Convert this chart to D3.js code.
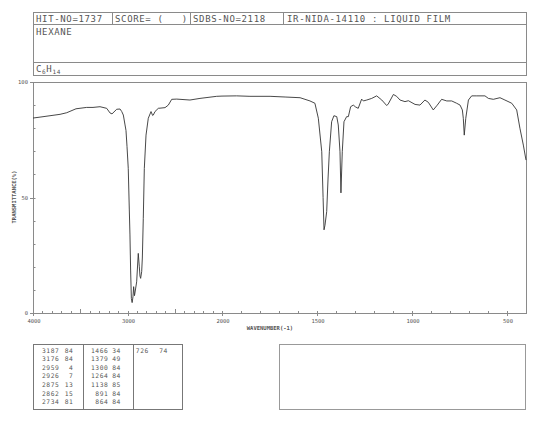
<!DOCTYPE html>
<html>
<head>
<meta charset="utf-8">
<script src="https://cdn.jsdelivr.net/npm/d3@7"></script>
<style>
  body { margin: 0; background: #fff; }
  svg { display: block; }
  text { font-family: "DejaVu Sans Mono", monospace; fill: #555; }
</style>
</head>
<body>
<div id="chart"></div>
<script>
(function (d3) {
  'use strict';

  // spectrum: wavenumber (cm-1) and transmittance (%)
  var wavenumbers = [4000, 3926, 3820, 3714, 3643, 3545, 3432, 3365, 3291, 3220, 3185, 3164,
    3114, 3079, 3061, 3044, 3026, 3016, 3005, 2992, 2981, 2974, 2967, 2959, 2951, 2942,
    2935, 2926, 2918, 2903, 2886, 2875, 2868, 2861, 2850, 2843, 2833, 2822, 2804, 2780,
    2751, 2734, 2727, 2709, 2674, 2603, 2568, 2532, 2479, 2339, 2233, 2056, 2000,
    1923, 1853, 1747, 1668, 1589, 1537, 1511, 1493, 1475, 1468, 1463, 1458, 1449, 1442,
    1435, 1423, 1411, 1396, 1388, 1379, 1374, 1367, 1358, 1344, 1335, 1323, 1309, 1297,
    1283, 1265, 1256, 1238, 1212, 1186, 1159, 1133, 1125, 1098, 1081, 1063, 1037, 1019,
    984, 958, 932, 914, 888, 867, 844, 817, 791, 765, 747, 735, 730, 725, 717, 703, 686,
    659, 616, 598, 572, 537, 511, 475, 449, 432, 414, 400];
  var transmittance = [84.4, 84.8, 85.4, 86.0, 86.7, 88.4, 89.0, 89.0, 89.3, 88.6, 86.6, 86.2,
    88.2, 88.3, 87.2, 85.7, 81.4, 79, 72, 62.6, 45, 33.8, 18.6, 6.3, 4.5, 7,
    11.4, 7.5, 9.5, 13.5, 25.8, 20, 16, 15, 17.9, 23.8, 41, 62.6, 77, 84.3,
    87.2, 85.5, 85.7, 87.2, 88.6, 88.9, 90, 92.5, 92.6, 92.2, 92.9, 93.8, 93.9,
    94, 93.8, 93.8, 93.5, 93.2, 91.8, 90.8, 84.3, 69.8, 50, 36, 38, 43.9, 58,
    69.8, 82.8, 85.4, 85, 81.4, 69.8, 52, 69.8, 82.8, 85, 85, 89.3, 90, 89.2,
    88.6, 92.6, 91.8, 92.2, 92.9, 94, 92.2, 89.8, 90.5, 94.6, 93.8, 92.2, 91.5, 91.9,
    90.3, 90, 92.2, 91.2, 87.9, 90, 92.5, 91.8, 91.8, 90.8, 90, 87.9, 84.3, 77, 84.3, 92.2, 94,
    94, 94, 92.9, 92.5, 93.2, 92.2, 90.8, 87.9, 80, 72.7, 66.2];

  // peak list
  var peakWn = [3187, 3176, 2959, 2926, 2875, 2862, 2734,
                1466, 1379, 1300, 1264, 1138, 891, 864,
                726];
  var peakT = [84, 84, 4, 7, 13, 15, 81,
               34, 49, 84, 84, 85, 84, 84,
               74];

  var xLabels = [4000, 3000, 2000, 1500, 1000, 500];
  var yLabels = [0, 50, 100];

  var width = 545, height = 421;
  var left = 33, right = 526, top = 82, bottom = 313;
  var frame = '#8a8a8a';

  var svg = d3.select('#chart').append('svg')
      .attr('width', width)
      .attr('height', height);

  // header box
  var hdr = svg.append('g');
  hdr.append('rect')
      .attr('x', left + 0.5).attr('y', 12.5)
      .attr('width', right - left).attr('height', 63)
      .attr('fill', 'none').attr('stroke', frame);
  [24.5, 62.5].forEach(function (y) {
    hdr.append('line').attr('x1', left).attr('x2', right + 0.5)
        .attr('y1', y).attr('y2', y).attr('stroke', frame);
  });
  [112.5, 190.5, 283.5].forEach(function (x) {
    hdr.append('line').attr('x1', x).attr('x2', x)
        .attr('y1', 12.5).attr('y2', 24.5).attr('stroke', frame);
  });
  var hdrText = [
    { x: 36, y: 22, t: 'HIT-NO=1737' },
    { x: 115, y: 22, t: 'SCORE= (   )' },
    { x: 193, y: 22, t: 'SDBS-NO=2118' },
    { x: 287, y: 22, t: 'IR-NIDA-14110 : LIQUID FILM' },
    { x: 36, y: 35, t: 'HEXANE' }
  ];
  hdr.selectAll('text.h').data(hdrText).enter()
    .append('text')
      .attr('class', 'h')
      .attr('x', function (d) { return d.x; })
      .attr('y', function (d) { return d.y; })
      .attr('font-size', 9)
      .attr('letter-spacing', 0.65)
      .attr('xml:space', 'preserve')
      .text(function (d) { return d.t; });
  var formula = hdr.append('text')
      .attr('x', 36).attr('y', 72)
      .attr('font-size', 9).attr('letter-spacing', 0.65);
  formula.append('tspan').text('C');
  formula.append('tspan').attr('font-size', 6).attr('dy', 2).text('6');
  formula.append('tspan').attr('dy', -2).text('H');
  formula.append('tspan').attr('font-size', 6).attr('dy', 2).text('14');

  // scales: the chart doubles its scale below 2000 cm-1
  var x = d3.scaleLinear().domain([4000, 2000, 400]).range([left, 222, right]);
  var y = d3.scaleLinear().domain([0, 100]).range([bottom, top]);

  svg.append('rect')
      .attr('x', left + 0.5).attr('y', top + 0.5)
      .attr('width', right - left).attr('height', bottom - top)
      .attr('fill', 'none').attr('stroke', frame);

  // x ticks
  var xt = svg.append('g').attr('stroke', frame);
  d3.range(4000, 399, -100).forEach(function (v) {
    var px = Math.round(x(v)) + 0.5;
    var major = xLabels.indexOf(v) >= 0;
    var mid = (v === 3500 || v === 2500);
    xt.append('line')
        .attr('x1', px).attr('x2', px)
        .attr('y1', bottom - (mid ? 4 : 2))
        .attr('y2', bottom + (major ? 3 : 0.5));
  });
  svg.selectAll('text.xl').data(xLabels).enter()
    .append('text')
      .attr('class', 'xl')
      .attr('x', function (d) { return x(d) + 1; })
      .attr('y', 323)
      .attr('text-anchor', 'middle')
      .attr('font-size', 5.5)
      .text(function (d) { return d; });
  svg.append('text')
      .attr('x', 270).attr('y', 330)
      .attr('text-anchor', 'middle')
      .attr('font-size', 5.5)
      .attr('font-weight', 'bold')
      .text('WAVENUMBER(-1)');

  // y ticks
  var yt = svg.append('g').attr('stroke', frame);
  d3.range(0, 101, 10).forEach(function (v) {
    var py = Math.round(y(v)) + 0.5;
    var major = yLabels.indexOf(v) >= 0;
    yt.append('line')
        .attr('x1', left - (major ? 3 : 0)).attr('x2', left + 2.5)
        .attr('y1', py).attr('y2', py);
  });
  svg.selectAll('text.yl').data(yLabels).enter()
    .append('text')
      .attr('class', 'yl')
      .attr('x', 28)
      .attr('y', function (d) { return y(d) + 2; })
      .attr('text-anchor', 'end')
      .attr('font-size', 5.5)
      .text(function (d) { return d; });
  svg.append('text')
      .attr('transform', 'translate(16,197) rotate(-90)')
      .attr('text-anchor', 'middle')
      .attr('font-size', 5.5)
      .attr('font-weight', 'bold')
      .text('TRANSMITTANCE(%)');

  // spectrum
  var line = d3.line()
      .x(function (d) { return x(d[0]); })
      .y(function (d) { return y(d[1]); });
  svg.append('path')
      .datum(d3.zip(wavenumbers, transmittance))
      .attr('d', line)
      .attr('fill', 'none')
      .attr('stroke', '#333')
      .attr('stroke-width', 0.9)
      .attr('stroke-linejoin', 'round');

  // peak table
  var tbl = svg.append('g');
  tbl.append('rect')
      .attr('x', 33.5).attr('y', 344.5).attr('width', 149).attr('height', 65)
      .attr('fill', 'none').attr('stroke', '#777');
  [83.5, 133.5].forEach(function (xx) {
    tbl.append('line').attr('x1', xx).attr('x2', xx)
        .attr('y1', 344.5).attr('y2', 409.5).attr('stroke', '#777');
  });
  tbl.append('rect')
      .attr('x', 279.5).attr('y', 344.5).attr('width', 246).attr('height', 65)
      .attr('fill', 'none').attr('stroke', '#999');

  var colWn = [59.5, 108.5, 149], colT = [73.5, 121, 168];
  var rows = peakWn.map(function (w, i) {
    return { wn: w, t: peakT[i], col: Math.floor(i / 7), row: i % 7 };
  });
  var cells = tbl.selectAll('g.pk').data(rows).enter().append('g').attr('class', 'pk');
  cells.append('text')
      .attr('x', function (d) { return colWn[d.col]; })
      .attr('y', function (d) { return 352.5 + d.row * 8.66; })
      .attr('text-anchor', 'end')
      .attr('font-size', 6.3)
      .attr('letter-spacing', 0.6)
      .text(function (d) { return d.wn; });
  cells.append('text')
      .attr('x', function (d) { return colT[d.col]; })
      .attr('y', function (d) { return 352.5 + d.row * 8.66; })
      .attr('text-anchor', 'end')
      .attr('font-size', 6.3)
      .attr('letter-spacing', 0.6)
      .text(function (d) { return d.wn === undefined ? '' : d.t; });
})(d3);
</script>
</body>
</html>
